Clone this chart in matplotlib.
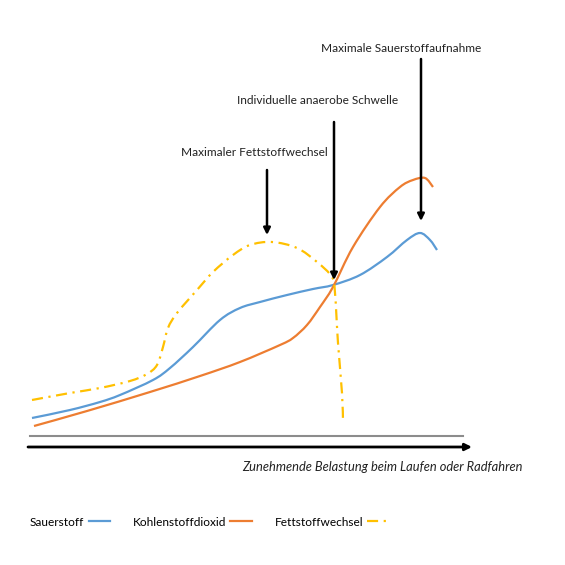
import numpy as np
import matplotlib.pyplot as plt
from matplotlib.lines import Line2D
from matplotlib.path import Path
from matplotlib.patches import PathPatch

plt.rcParams['font.family'] = ['Lato', 'DejaVu Sans']

# curves (x: load, y: height above baseline)
sauer_x = [2, 40, 70, 90, 123, 140, 163, 190, 210, 230, 257, 283, 303, 330, 357, 377, 390, 400, 407]
sauer_y = [18, 26, 34, 41, 56, 68, 89, 116, 128, 134, 141, 147, 151, 161, 179, 196, 203, 196, 186]

co2_x = [4, 57, 120, 170, 210, 250, 263, 277, 290, 303, 323, 350, 370, 383, 395, 403]
co2_y = [10, 25, 44, 60, 74, 91, 98, 111, 129, 149, 189, 229, 249, 256, 258, 249]

fett_x = [2, 40, 70, 100, 117, 127, 133, 138, 147, 167, 183, 203, 220, 242, 267, 287, 302, 305, 308, 312, 313]
fett_y = [36, 43, 48, 55, 62, 71, 89, 108, 123, 146, 164, 181, 191, 194, 188, 174, 159, 143, 93, 43, 14]

labels = ['Sauerstoff', 'Kohlenstoffdioxid', 'Fettstoffwechsel']
colors = ['#5B9BD5', '#ED7D31', '#FFC000']

# annotations: text, text x, text y, arrow x, arrow top, arrow tip
notes = [
    ('Maximaler Fettstoffwechsel', 224, 283, 237, 266, 201),
    ('Individuelle anaerobe Schwelle', 288, 335, 304, 314, 156),
    ('Maximale Sauerstoffaufnahme', 371, 388, 391, 377, 215),
]
xlabel = 'Zunehmende Belastung beim Laufen oder Radfahren'

dashdot = (5, 2.5, 1, 2.5)


def smooth_path(xs, ys):
    # smoothed line through the points (Catmull-Rom drawn as bezier segments)
    p = np.column_stack([xs, ys]).astype(float)
    p = np.vstack([p[0], p, p[-1]])
    verts = [p[1]]
    codes = [Path.MOVETO]
    for i in range(1, len(p) - 2):
        c1 = p[i] + (p[i + 1] - p[i - 1]) / 6
        c2 = p[i + 1] - (p[i + 2] - p[i]) / 6
        verts += [c1, c2, p[i + 1]]
        codes += [Path.CURVE4] * 3
    return Path(verts, codes)


fig = plt.figure(figsize=(5.65, 5.65), dpi=100)
ax = fig.add_axes([0, 0, 1, 1])
ax.set_xlim(-30, 535)
ax.set_ylim(-129, 436)
ax.axis('off')

ax.add_patch(PathPatch(smooth_path(sauer_x, sauer_y), fill=False, edgecolor=colors[0], lw=1.6))
ax.add_patch(PathPatch(smooth_path(co2_x, co2_y), fill=False, edgecolor=colors[1], lw=1.6))
ax.add_patch(PathPatch(smooth_path(fett_x, fett_y), fill=False, edgecolor=colors[2], lw=1.6,
                       linestyle=(0, dashdot)))

# baseline and load arrow
ax.plot([0, 433], [0, 0], color='#8c8c8c', lw=1.5)
ax.annotate('', xy=(442, -11), xytext=(-2, -11),
            arrowprops=dict(arrowstyle='-|>', color='black', lw=2, mutation_scale=10,
                            shrinkA=0, shrinkB=0))
ax.text(352, -31, xlabel, ha='center', va='center', fontsize=9.3, style='italic', color='#222222')

for txt, tx, ty, axx, top, tip in notes:
    ax.text(tx, ty, txt, ha='center', va='center', fontsize=8.6, color='#222222')
    ax.annotate('', xy=(axx, tip), xytext=(axx, top),
                arrowprops=dict(arrowstyle='-|>', color='black', lw=1.8, mutation_scale=10,
                                shrinkA=0, shrinkB=0))

handles = [
    Line2D([], [], color=colors[0], lw=1.6),
    Line2D([], [], color=colors[1], lw=1.6),
    Line2D([], [], color=colors[2], lw=1.6, dashes=dashdot),
]
fig.legend(handles, labels, loc='center left', bbox_to_anchor=(0.053, 0.076), ncol=3,
           frameon=False, markerfirst=False, fontsize=8.6, handlelength=1.8,
           handletextpad=0.35, columnspacing=1.9, borderpad=0, borderaxespad=0)

fig.savefig('out.png', dpi=100)
